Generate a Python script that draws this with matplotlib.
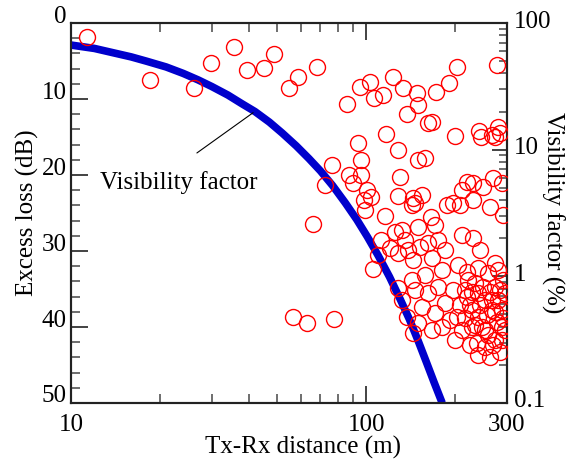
import numpy as np
import matplotlib.pyplot as plt
from matplotlib.ticker import FixedLocator, FixedFormatter, MultipleLocator
from matplotlib.transforms import ScaledTranslation

plt.rcParams['font.family'] = ['Liberation Serif', 'DejaVu Serif']
plt.rcParams['font.size'] = 18

# measured excess loss (red circles)
distance = [11.3, 18.5, 26.1, 29.8, 35.7, 39.5, 45.1, 48.7, 54.8, 58.7,
             68.1, 95.3, 103.0, 86.1, 106.3, 114.0, 123.3, 133.0, 137.5, 116.7,
             93.8, 128.2, 148.6, 149.8, 161.9, 167.1, 172.4, 190.7, 203.0, 277.4,
             199.9, 241.1, 244.8, 266.8, 279.6, 284.0, 273.1, 96.0, 76.6, 87.4,
             96.0, 90.2, 72.5, 100.6, 103.8, 98.3, 99.1, 115.8, 128.2, 66.0,
             125.2, 112.2, 120.4, 109.6, 128.2, 105.4, 149.8, 158.2, 130.2, 144.1,
             146.3, 154.5, 142.9, 165.8, 187.8, 196.8, 207.8, 211.1, 219.5, 230.0,
             248.7, 230.0, 262.7, 268.9, 288.4, 290.7, 211.1, 230.0, 242.9, 273.1,
             132.2, 149.8, 171.0, 175.1, 161.9, 138.6, 135.4, 152.2, 184.9, 167.1,
             144.1, 142.9, 158.2, 180.6, 204.6, 219.5, 239.2, 258.6, 279.6, 290.7,
             132.2, 137.5, 144.1, 154.5, 161.9, 171.0, 180.6, 184.9, 196.8, 203.0,
             219.5, 228.2, 237.3, 252.6, 262.7, 273.1, 288.4, 239.2, 266.8, 239.2,
             266.8, 288.4, 288.4, 228.2, 246.7, 211.1, 167.1, 149.8, 175.1, 146.3,
             295.2, 273.1, 233.7, 248.7, 56.5, 63.0, 77.8, 128.2,
             216.1, 224.7, 256.6, 277.4, 242.9, 216.1, 262.7, 284.0, 252.6, 224.7,
             199.9, 279.6, 290.7, 258.6, 233.7, 207.8, 192.3, 268.9, 239.2, 295.2,
             221.2, 252.6, 273.1, 284.0, 228.2]
excess_loss = [1.8, 7.5, 8.6, 5.3, 3.2, 6.2, 5.9, 4.1, 8.6, 7.1,
               5.8, 8.4, 7.8, 10.7, 9.9, 9.5, 7.1, 8.6, 12.0, 14.6,
               15.8, 16.7, 9.2, 10.8, 13.2, 13.0, 9.1, 7.9, 5.8, 5.5,
               14.9, 14.2, 15.0, 14.7, 13.7, 14.5, 15.0, 18.0, 18.7, 20.0,
               20.0, 21.1, 21.3, 22.0, 22.9, 23.3, 24.6, 25.4, 22.8, 26.4,
               27.5, 28.6, 29.6, 30.5, 30.3, 32.4, 18.0, 17.8, 20.3, 23.0,
               23.7, 22.6, 23.9, 25.5, 23.9, 23.7, 23.9, 22.0, 20.9, 21.1,
               21.6, 23.3, 24.2, 20.4, 21.1, 25.3, 27.9, 28.3, 29.9, 31.6,
               27.2, 26.8, 26.6, 28.6, 28.9, 29.9, 28.6, 29.5, 29.9, 30.9,
               31.2, 33.8, 33.2, 32.5, 31.8, 32.8, 32.2, 32.9, 32.5, 33.8,
               36.4, 38.7, 40.8, 37.4, 35.5, 38.2, 40.0, 36.8, 35.1, 38.7,
               36.1, 37.8, 42.1, 40.4, 43.9, 41.7, 40.0, 38.7, 37.8, 35.5,
               36.4, 37.8, 41.7, 40.0, 40.0, 40.4, 40.4, 39.5, 34.7, 35.1,
               35.5, 34.7, 34.2, 34.7, 38.7, 39.5, 38.9, 34.9,
               35.1, 37.1, 38.4, 39.3, 37.1, 38.8, 35.4, 43.3, 42.6, 42.4,
               41.7, 36.4, 38.8, 41.1, 39.7, 37.1, 39.1, 42.4, 43.7, 40.4,
               33.8, 36.4, 38.0, 35.1, 35.4]

# visibility factor curve (blue), right axis in %
vis_distance = [10, 12, 14, 16, 18, 21, 24, 27, 30, 34,
                38, 42, 47, 52, 58, 64, 70, 77, 85, 93,
                101, 110, 120, 130, 140, 150, 160, 170, 181]
vis_factor = [67, 63, 58, 54, 50, 45, 40, 35.5, 31.5, 27,
              23, 20, 16.5, 13.5, 10.7, 8.5, 6.8, 5.2, 3.8, 2.8,
              2.05, 1.45, 0.99, 0.67, 0.46, 0.31, 0.21, 0.145, 0.1]

fig = plt.figure(figsize=(5.75, 4.66), dpi=100)
ax = fig.add_axes([0.1235, 0.1352, 0.7582, 0.8154])
ax2 = ax.twinx()

ax2.plot(vis_distance, vis_factor, color='#0000cc', lw=5.5,
         solid_capstyle='butt', solid_joinstyle='round', zorder=1)
ax.plot(distance, excess_loss, 'o', ms=11.5, mfc='none', mec='red', mew=1.0,
        zorder=3)

ax.set_zorder(ax2.get_zorder() + 1)
ax.patch.set_visible(False)

ax.set_xscale('log')
ax.set_xlim(10, 300)
ax.set_ylim(50, 0)
ax2.set_yscale('log')
ax2.set_ylim(0.1, 100)

ax.xaxis.set_major_locator(FixedLocator([10, 100, 300]))
ax.xaxis.set_major_formatter(FixedFormatter(['10', '100', '300']))
ax.xaxis.set_minor_locator(FixedLocator([20, 30, 40, 50, 60, 70, 80, 90, 200]))
ax.xaxis.set_minor_formatter(FixedFormatter([]))
ax.yaxis.set_major_locator(MultipleLocator(10))
ax.yaxis.set_minor_locator(MultipleLocator(2))

ax2.yaxis.set_major_locator(FixedLocator([0.1, 1, 10, 100]))
ax2.yaxis.set_major_formatter(FixedFormatter(['0.1', '1', '10', '100']))
minors = [m * 10.0 ** k for k in (-1, 0, 1) for m in range(2, 10)]
ax2.yaxis.set_minor_locator(FixedLocator(minors))
ax2.yaxis.set_minor_formatter(FixedFormatter([]))

ax.tick_params(which='both', direction='in', top=True, right=False,
               color='#222222', width=1.2)
ax.tick_params(which='major', length=12)
ax.tick_params(which='minor', length=6.5, color='#555555')
ax.tick_params(axis='y', pad=3)
ax.tick_params(axis='x', pad=8)
ax2.tick_params(which='both', direction='in', color='#222222', width=1.2)
ax2.tick_params(which='major', length=11, pad=5)
ax2.tick_params(which='minor', length=6, color='#555555')

for a in (ax, ax2):
    for s in a.spines.values():
        s.set_linewidth(1.5)
        s.set_color('#222222')

# tick labels sit a little above their ticks
for lab in ax.get_yticklabels():
    lab.set_transform(lab.get_transform() +
                      ScaledTranslation(0, 9 / 100, fig.dpi_scale_trans))
for lab in ax2.get_yticklabels():
    lab.set_transform(lab.get_transform() +
                      ScaledTranslation(0, 4 / 100, fig.dpi_scale_trans))

ax.set_xlabel('Tx-Rx distance (m)')
ax.xaxis.set_label_coords(0.532, -0.116)
ax.xaxis.label.set_va('center')
ax.set_ylabel('Excess loss (dB)')
ax.yaxis.set_label_coords(-0.101, 0.5)
ax.yaxis.label.set_va('center')
ax2.set_ylabel('Visibility factor (%)', rotation=-90)
ax2.yaxis.set_label_coords(1.106, 0.5)
ax2.yaxis.label.set_va('center')

# label with a plain leader line pointing at the curve
ax.text(12.5, 21.0, 'Visibility factor', ha='left', va='center')
ax.annotate('', xy=(41.4, 11.8), xytext=(26.7, 17.1),
            arrowprops=dict(arrowstyle='-', color='black', lw=0.8,
                            shrinkA=0, shrinkB=0))

fig.savefig('out.png', dpi=100)
